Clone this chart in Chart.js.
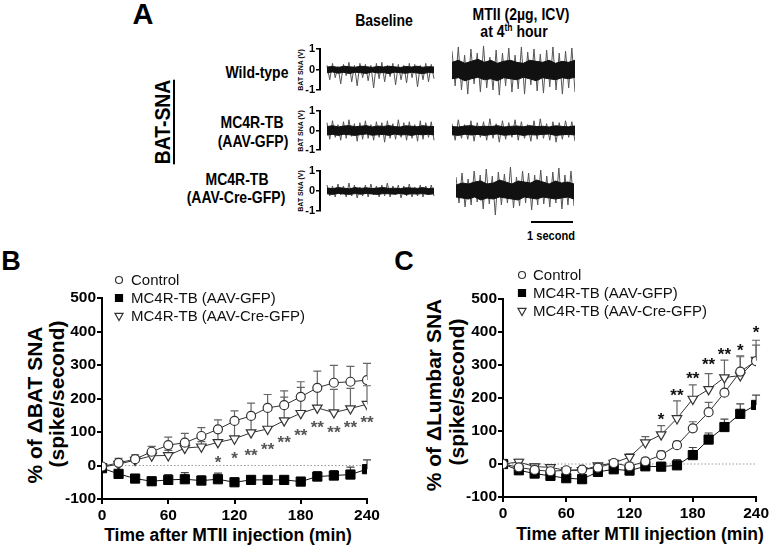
<!DOCTYPE html>
<html>
<head>
<meta charset="utf-8">
<script src="https://cdn.jsdelivr.net/npm/chart.js@4.4.1/dist/chart.umd.min.js"></script>
<style>
body{margin:0;background:#fff;width:771px;height:546px;position:relative;overflow:hidden;font-family:"Liberation Sans",Arial,sans-serif}
canvas{position:absolute}
.t{position:absolute;white-space:nowrap;transform:translate(-50%,-50%);font-weight:bold;color:#000;line-height:1}
.n{transform:translate(-50%,-50%) scaleX(.85)}
.r{transform:translate(-50%,-50%) rotate(-90deg)}
.rn{transform:translate(-50%,-50%) rotate(-90deg) scaleX(.88)}
.bar{position:absolute;background:#000}
</style>
</head>
<body>

<!-- panneau A : textes -->
<div class="t" style="left:143px;top:14px;font-size:29px">A</div>
<div class="t n" style="left:384px;top:20px;font-size:16.5px">Baseline</div>
<div class="t n" style="left:521px;top:14px;font-size:16.5px">MTII (2µg, ICV)</div>
<div class="t n" style="left:514px;top:31px;font-size:16.5px">at 4<sup style="font-size:10px">th</sup> hour</div>
<div class="t rn" style="left:163px;top:122px;font-size:22px;text-decoration:underline;text-underline-offset:3px">BAT-SNA</div>
<div class="t n" style="left:257px;top:72px;font-size:16.5px">Wild-type</div>
<div class="t n" style="left:252px;top:122px;font-size:16.5px">MC4R-TB</div>
<div class="t n" style="left:253px;top:141px;font-size:16.5px">(AAV-GFP)</div>
<div class="t n" style="left:237px;top:179px;font-size:16.5px">MC4R-TB</div>
<div class="t n" style="left:236px;top:197px;font-size:16.5px">(AAV-Cre-GFP)</div>
<div class="t r" style="left:300px;top:70px;font-size:7px">BAT SNA (V)</div>
<div class="t r" style="left:300px;top:131px;font-size:7px">BAT SNA (V)</div>
<div class="t r" style="left:300px;top:191px;font-size:7px">BAT SNA (V)</div>
<div class="bar" style="left:531px;top:221px;width:42px;height:2px"></div>
<div class="t n" style="left:551px;top:235px;font-size:13px">1 second</div>

<canvas id="wtBase" width="141" height="61" style="left:294px;top:39px"></canvas>
<canvas id="wtMtii" width="123" height="61" style="left:452px;top:39px"></canvas>
<canvas id="gfpBase" width="141" height="59" style="left:294px;top:101px"></canvas>
<canvas id="gfpMtii" width="123" height="59" style="left:452px;top:101px"></canvas>
<canvas id="creBase" width="141" height="60" style="left:294px;top:161px"></canvas>
<canvas id="creMtii" width="118" height="60" style="left:456px;top:161px"></canvas>

<!-- panneaux B et C -->
<div class="t" style="left:11px;top:261px;font-size:27px">B</div>
<div class="t" style="left:404px;top:261px;font-size:27px">C</div>
<div class="t r" style="left:34px;top:405px;font-size:21px">% of ΔBAT SNA</div>
<div class="t r" style="left:56px;top:394px;font-size:21px">(spike/second)</div>
<div class="t r" style="left:433px;top:395px;font-size:21px">% of ΔLumbar SNA</div>
<div class="t r" style="left:456px;top:392px;font-size:21px">(spike/second)</div>
<div class="t" style="left:228px;top:536px;font-size:17.5px">Time after MTII injection (min)</div>
<div class="t" style="left:640px;top:535px;font-size:17.5px">Time after MTII injection (min)</div>

<canvas id="chartB" width="390" height="296" style="left:0;top:250px"></canvas>
<canvas id="chartC" width="381" height="296" style="left:390px;top:250px"></canvas>

<script>
// temps (min)
const times = [0, 15, 30, 45, 60, 75, 90, 105, 120, 135, 150, 165, 180, 195, 210, 225, 240];
const groupLabels = ["Control", "MC4R-TB (AAV-GFP)", "MC4R-TB (AAV-Cre-GFP)"];

// panneau B : BAT SNA
const ctrlB = [-3, 8, 19, 41, 61, 68, 88, 108, 133, 148, 172, 180, 205, 232, 247, 250, 255];
const ctrlErrB = [0, 13, 13, 16, 24, 28, 25, 28, 30, 38, 40, 43, 45, 50, 52, 46, 50];
const gfpB = [-8, -25, -39, -47, -43, -41, -45, -41, -50, -43, -43, -43, -48, -33, -30, -27, -11];
const gfpErrB = [0, 4, 4, 4, 16, 20, 14, 18, 4, 4, 4, 4, 4, 15, 15, 22, 28];
const creB = [-5, 4, 16, 29, 30, 52, 56, 69, 80, 98, 109, 134, 156, 172, 158, 170, 183];
const creErrB = [0, 8, 10, 12, 15, 15, 15, 40, 55, 55, 65, 70, 77, 63, 69, 60, 55];
const starTB = [105, 120, 135, 150, 165, 180, 195, 210, 225, 240];
const starYB = [22, 34, 42, 62, 81, 103, 126, 111, 126, 141];
const starLB = ["*", "*", "**", "**", "**", "**", "**", "**", "**", "**"];

// panneau C : Lumbar SNA
const ctrlC = [0, -10, -18, -22, -19, -17, -11, 3, -7, 8, 27, 57, 108, 157, 216, 280, 312];
const ctrlErrC = [0, 8, 8, 8, 6, 6, 8, 8, 10, 10, 12, 12, 20, 30, 45, 48, 48];
const gfpC = [0, -19, -29, -36, -43, -46, -24, -16, -20, -7, -8, -4, 27, 74, 112, 152, 179];
const gfpErrC = [0, 5, 5, 5, 5, 5, 5, 5, 5, 5, 5, 17, 23, 20, 24, 30, 30];
const creC = [0, 6, -8, -10, -20, -19, -5, 3, 21, 65, 89, 138, 197, 226, 262, 268, 315];
const creErrC = [0, 8, 8, 6, 6, 6, 6, 8, 10, 18, 27, 53, 43, 48, 53, 57, 60];
const starTC = [150, 165, 180, 195, 210, 225, 240];
const starYC = [150, 221, 273, 314, 346, 358, 413];
const starLC = ["*", "**", "**", "**", "**", "*", "*"];

// panneau A : traces (V) - pics et enveloppe du coeur
const wtBaseSpk = [0.2,-0.5,0.3,-0.4,0.15,-0.7,0.25,-0.3,0.35,-0.6,0.2,-0.8,0.3,-0.4,0.25,-0.55,0.2,-0.9,0.3,-0.45,0.35,-0.6,0.2,-0.35,0.3,-0.75,0.25,-0.5,0.2,-0.65,0.3,-0.4,0.25,-0.85,0.2,-0.5,0.3,-0.6,0.25,-0.45];
const wtBaseHi = [0.12,0.15,0.1,0.16,0.13,0.11,0.16,0.14,0.1,0.15,0.12,0.16,0.13,0.1,0.15,0.12,0.16,0.11,0.14,0.12];
const wtBaseLo = [-0.16,-0.12,-0.18,-0.14,-0.2,-0.13,-0.16,-0.19,-0.12,-0.17,-0.15,-0.2,-0.13,-0.16,-0.18,-0.14,-0.17,-0.2,-0.15,-0.16];
const wtMtiiSpk = [0.9,-0.8,1.1,-1.0,0.7,-1.2,1.0,-0.7,0.8,-1.1,1.15,-0.9,0.6,-1.0,0.95,-1.25,0.8,-0.8,1.05,-1.1,0.7,-0.95,1.1,-1.2,0.85,-0.75,1.0,-1.05,0.75,-1.15,0.95,-0.85,1.1,-1.0,0.8,-1.2,0.9,-0.9,1.05,-1.1];
const wtMtiiHi = [0.35,0.45,0.3,0.4,0.5,0.35,0.45,0.3,0.4,0.45,0.35,0.3,0.45,0.4,0.35,0.45,0.3,0.4,0.35,0.45];
const wtMtiiLo = [-0.45,-0.4,-0.55,-0.45,-0.38,-0.5,-0.45,-0.55,-0.4,-0.45,-0.5,-0.38,-0.45,-0.55,-0.4,-0.45,-0.5,-0.4,-0.45,-0.38];
const gfpBaseSpk = [0.4,-0.45,0.5,-0.35,0.3,-0.5,0.45,-0.4,0.55,-0.3,0.35,-0.55,0.4,-0.45,0.5,-0.4,0.3,-0.5,0.45,-0.35,0.4,-0.6,0.5,-0.4,0.35,-0.45,0.55,-0.35,0.4,-0.5,0.45,-0.4,0.3,-0.55,0.5,-0.45,0.4,-0.35,0.45,-0.5];
const gfpBaseHi = [0.2,0.25,0.18,0.23,0.25,0.19,0.22,0.25,0.18,0.23,0.21,0.25,0.2,0.18,0.24,0.22,0.19,0.25,0.21,0.2];
const gfpBaseLo = [-0.23,-0.2,-0.25,-0.19,-0.22,-0.25,-0.21,-0.18,-0.24,-0.22,-0.2,-0.25,-0.18,-0.23,-0.21,-0.25,-0.2,-0.22,-0.19,-0.23];
const gfpMtiiSpk = [0.35,-0.5,0.55,-0.4,0.3,-0.45,0.5,-0.55,0.4,-0.35,0.45,-0.5,0.6,-0.4,0.35,-0.6,0.5,-0.45,0.4,-0.35,0.55,-0.5,0.45,-0.4,0.3,-0.55,0.5,-0.45,0.6,-0.4,0.35,-0.5,0.45,-0.6,0.4,-0.45,0.5,-0.35,0.45,-0.55];
const gfpMtiiHi = [0.2,0.18,0.23,0.25,0.19,0.22,0.2,0.25,0.18,0.21,0.23,0.19,0.25,0.2,0.22,0.18,0.24,0.21,0.19,0.23];
const gfpMtiiLo = [-0.22,-0.25,-0.19,-0.23,-0.2,-0.25,-0.21,-0.18,-0.24,-0.22,-0.19,-0.25,-0.21,-0.23,-0.2,-0.18,-0.25,-0.22,-0.2,-0.23];
const creBaseSpk = [0.3,-0.25,0.25,-0.3,0.35,-0.2,0.25,-0.3,0.4,-0.25,0.3,-0.35,0.2,-0.25,0.3,-0.3,0.35,-0.2,0.25,-0.3,0.3,-0.25,0.4,-0.3,0.25,-0.2,0.3,-0.35,0.25,-0.25,0.35,-0.3,0.2,-0.25,0.3,-0.3,0.25,-0.2,0.3,-0.25];
const creBaseHi = [0.15,0.12,0.17,0.14,0.11,0.17,0.13,0.16,0.12,0.15,0.17,0.13,0.14,0.12,0.16,0.15,0.13,0.17,0.12,0.14];
const creBaseLo = [-0.14,-0.17,-0.12,-0.15,-0.17,-0.13,-0.16,-0.12,-0.15,-0.17,-0.13,-0.14,-0.16,-0.12,-0.17,-0.14,-0.15,-0.13,-0.17,-0.14];
const creMtiiSpk = [0.7,-0.6,0.9,-0.8,0.6,-0.7,1.0,-0.55,0.8,-0.9,1.1,-0.65,0.75,-1.2,0.95,-0.7,0.85,-0.6,1.2,-0.85,0.7,-0.75,1.0,-0.6,0.9,-0.95,0.8,-0.7,1.05,-0.65,0.75,-0.8,0.95,-0.6,1.15,-0.9,0.8,-0.7,1.0,-0.75];
const creMtiiHi = [0.3,0.4,0.35,0.45,0.5,0.35,0.4,0.55,0.45,0.35,0.5,0.45,0.4,0.55,0.45,0.35,0.5,0.4,0.45,0.35];
const creMtiiLo = [-0.3,-0.35,-0.4,-0.3,-0.45,-0.35,-0.4,-0.3,-0.35,-0.4,-0.45,-0.3,-0.35,-0.4,-0.3,-0.35,-0.4,-0.35,-0.3,-0.4];

const FONT = '"Liberation Sans", Arial, sans-serif';

// petite trace du panneau A
function trace(id, spk, hi, lo, withAxis) {
  const toXY = arr => arr.map((v, i) => ({ x: i / (arr.length - 1), y: v }));
  new Chart(document.getElementById(id), {
    type: "line",
    data: {
      datasets: [
        { data: toXY(hi), borderColor: "#111", borderWidth: 1, backgroundColor: "#111", fill: "+1", pointRadius: 0, clip: false },
        { data: toXY(lo), borderColor: "#111", borderWidth: 1, fill: false, pointRadius: 0, clip: false },
        { data: toXY(spk), borderColor: "#555", borderWidth: 1, fill: false, pointRadius: 0, clip: false }
      ]
    },
    options: {
      animation: false,
      responsive: false,
      events: [],
      layout: { padding: { top: 10, bottom: 10, left: 0, right: withAxis ? 1 : 0 } },
      plugins: { legend: { display: false }, tooltip: { enabled: false } },
      scales: {
        x: { type: "linear", display: false, min: withAxis ? -0.0654 : 0, max: 1 },
        y: {
          display: withAxis,
          min: -1, max: 1,
          ticks: { stepSize: 1, color: "#000", padding: 1, font: { family: FONT, size: 11, weight: "bold" } },
          grid: { drawOnChartArea: false, drawTicks: true, tickLength: 4, color: "#000", lineWidth: 1.5 },
          border: { display: true, color: "#000", width: 2 },
          afterFit: s => { if (withAxis) s.width = 26; }
        }
      }
    }
  });
}

trace("wtBase", wtBaseSpk, wtBaseHi, wtBaseLo, true);
trace("wtMtii", wtMtiiSpk, wtMtiiHi, wtMtiiLo, false);
trace("gfpBase", gfpBaseSpk, gfpBaseHi, gfpBaseLo, true);
trace("gfpMtii", gfpMtiiSpk, gfpMtiiHi, gfpMtiiLo, false);
trace("creBase", creBaseSpk, creBaseHi, creBaseLo, true);
trace("creMtii", creMtiiSpk, creMtiiHi, creMtiiLo, false);

// marqueur pour la légende
function marker(ctx, style, x, y, r, fill, stroke) {
  ctx.fillStyle = fill; ctx.strokeStyle = stroke; ctx.lineWidth = 1.2;
  ctx.beginPath();
  if (style === "circle") ctx.arc(x, y, r, 0, Math.PI * 2);
  else if (style === "rect") ctx.rect(x - r, y - r, 2 * r, 2 * r);
  else { ctx.moveTo(x, y + r); ctx.lineTo(x - r * 0.9, y - r * 0.6); ctx.lineTo(x + r * 0.9, y - r * 0.6); ctx.closePath(); }
  ctx.fill(); ctx.stroke();
}

// barres d'erreur, ligne du zéro, étoiles, légende
const extras = {
  id: "extras",
  beforeDatasetsDraw(chart) {
    const { ctx, chartArea, scales: { x, y } } = chart;
    ctx.save();
    ctx.strokeStyle = "#999"; ctx.lineWidth = 1; ctx.setLineDash([1.5, 2]);
    const y0 = y.getPixelForValue(0);
    ctx.beginPath(); ctx.moveTo(chartArea.left + 2, y0); ctx.lineTo(chartArea.right, y0); ctx.stroke();
    ctx.setLineDash([]);
    chart.data.datasets.forEach(ds => {
      ctx.strokeStyle = ds.errColor; ctx.lineWidth = 1.2;
      ds.data.forEach((p, i) => {
        const e = ds.err[i];
        if (!e) return;
        const px = x.getPixelForValue(p.x), py = y.getPixelForValue(p.y), pt = y.getPixelForValue(p.y + e);
        ctx.beginPath();
        ctx.moveTo(px, py); ctx.lineTo(px, pt);
        ctx.moveTo(px - 4, pt); ctx.lineTo(px + 4, pt);
        ctx.stroke();
      });
    });
    ctx.restore();
  },
  afterDraw(chart, args, opts) {
    const { ctx, scales: { x, y } } = chart;
    ctx.save();
    ctx.fillStyle = opts.starColor; ctx.font = "bold 17px " + FONT;
    ctx.textAlign = "center"; ctx.textBaseline = "alphabetic";
    opts.starT.forEach((t, i) => {
      ctx.fillText(opts.starL[i], x.getPixelForValue(t), y.getPixelForValue(opts.starY[i]) + 10);
    });
    const lg = opts.legend;
    chart.data.datasets.forEach((ds, i) => {
      const my = lg.y + i * lg.gap;
      marker(ctx, ds.pointStyle, lg.x, my, ds.legendR, ds.pointBackgroundColor, ds.pointBorderColor);
      ctx.fillStyle = "#111"; ctx.font = "15px " + FONT;
      ctx.textAlign = "left"; ctx.textBaseline = "middle";
      ctx.fillText(ds.label, lg.tx, my + 1);
    });
    ctx.restore();
  }
};

function panel(id, ctrl, ctrlErr, gfp, gfpErr, cre, creErr, cfg) {
  const pts = arr => arr.map((v, i) => ({ x: times[i], y: v }));
  new Chart(document.getElementById(id), {
    type: "line",
    data: {
      datasets: [
        { label: groupLabels[0], data: pts(ctrl), err: ctrlErr, errColor: "#666", legendR: 3.5,
          borderColor: "#333", borderWidth: 1, pointStyle: "circle", pointRadius: 4.5,
          pointBackgroundColor: "#fff", pointBorderColor: "#333", pointBorderWidth: 1.2 },
        { label: groupLabels[1], data: pts(gfp), err: gfpErr, errColor: "#444", legendR: 3.5,
          borderColor: "#111", borderWidth: 1, pointStyle: "rect", pointRadius: 6.5,
          pointBackgroundColor: "#000", pointBorderColor: "#000", pointBorderWidth: 1 },
        { label: groupLabels[2], data: pts(cre), err: creErr, errColor: "#666", legendR: 4.5,
          borderColor: "#333", borderWidth: 1, pointStyle: "triangle", pointRotation: 180, pointRadius: 5.5,
          pointBackgroundColor: "#fff", pointBorderColor: "#333", pointBorderWidth: 1.2 }
      ]
    },
    options: {
      animation: false,
      responsive: false,
      events: [],
      layout: { padding: cfg.padding },
      plugins: {
        legend: { display: false }, tooltip: { enabled: false },
        extras: { starT: cfg.starT, starY: cfg.starY, starL: cfg.starL, starColor: cfg.starColor, legend: cfg.legend }
      },
      scales: {
        x: {
          type: "linear", min: 0, max: 240,
          ticks: { stepSize: 60, color: "#000", padding: 2, font: { family: FONT, size: 15.5, weight: "bold" } },
          grid: { drawOnChartArea: false, drawTicks: true, tickLength: 5, color: "#000", lineWidth: 2 },
          border: { color: "#000", width: 2 },
          afterFit: s => { s.height = 30; }
        },
        y: {
          min: -100, max: 500,
          ticks: { stepSize: 100, color: "#000", padding: 1, font: { family: FONT, size: 15.5, weight: "bold" } },
          grid: { drawOnChartArea: false, drawTicks: true, tickLength: 5, color: "#000", lineWidth: 2 },
          border: { color: "#000", width: 2 },
          afterFit: s => { s.width = cfg.yWidth; }
        }
      }
    },
    plugins: [extras]
  });
}

panel("chartB", ctrlB, ctrlErrB, gfpB, gfpErrB, creB, creErrB, {
  padding: { left: 0, right: 23, top: 48, bottom: 17 }, yWidth: 102,
  starT: starTB, starY: starYB, starL: starLB, starColor: "#555",
  legend: { x: 119, y: 30, gap: 18, tx: 131 }
});
panel("chartC", ctrlC, ctrlErrC, gfpC, gfpErrC, creC, creErrC, {
  padding: { left: 0, right: 14, top: 49, bottom: 19 }, yWidth: 113,
  starT: starTC, starY: starYC, starL: starLC, starColor: "#111",
  legend: { x: 132, y: 25, gap: 18, tx: 143 }
});
</script>
</body>
</html>
